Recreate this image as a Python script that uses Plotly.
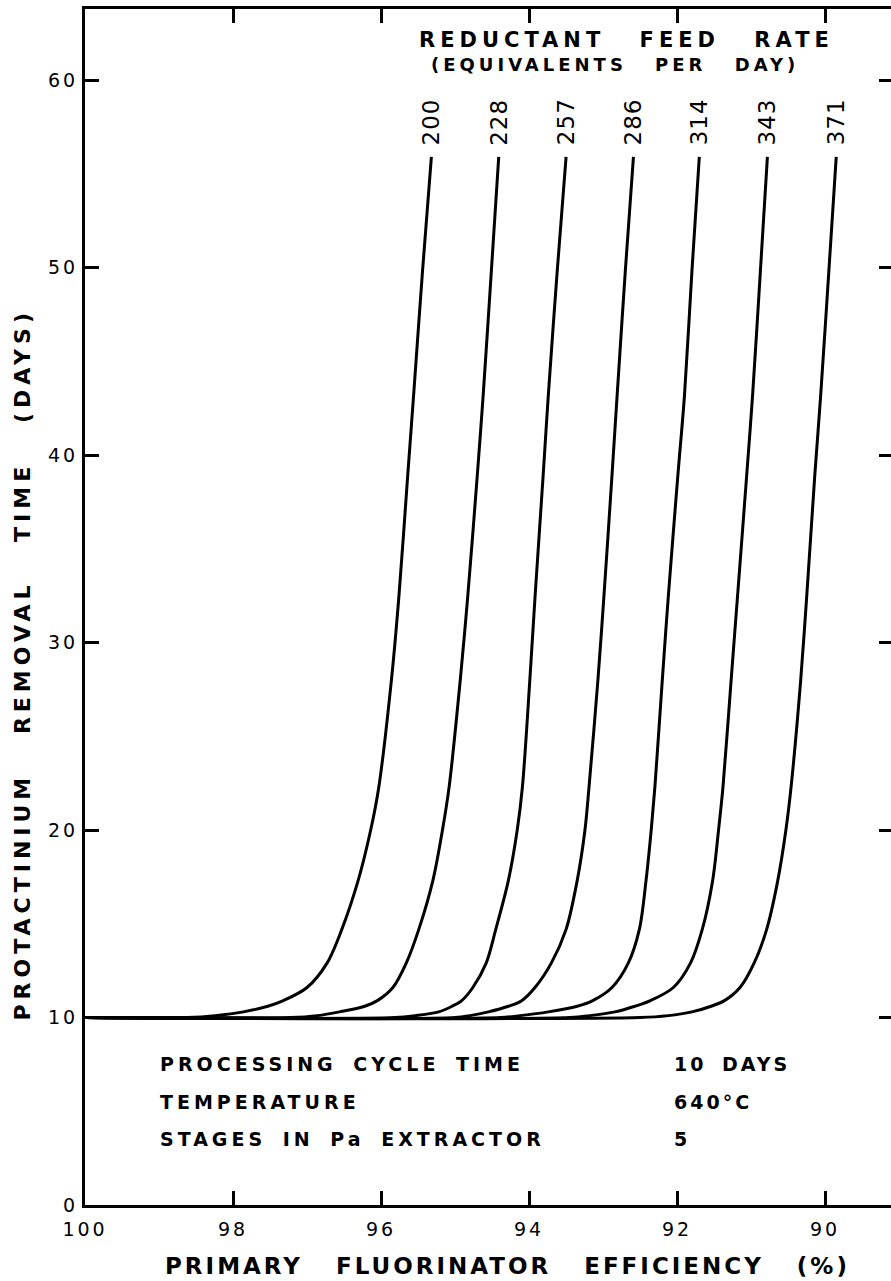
import plotly.graph_objects as go

# Reductant feed rate (equivalents per day) labelling each curve
feed_rates = ["200", "228", "257", "286", "314", "343", "371"]

# Protactinium removal time (days) at which each curve was read
removal_time_levels = [10.0, 10.1, 10.3, 10.6, 10.9, 11.6, 12.9, 14.7, 17.3,
                       20.0, 22.3, 28.0, 32.4, 38.9, 43.2, 49.8, 55.9]

# Primary fluorinator efficiency (%) for each curve at the levels above
eff_200 = [98.62, 98.24, 97.86, 97.53, 97.32, 97.00, 96.73, 96.53, 96.31,
           96.14, 96.03, 95.86, 95.76, 95.64, 95.56, 95.44, 95.32]
eff_228 = [97.23, 96.86, 96.56, 96.22, 96.05, 95.84, 95.66, 95.49, 95.30,
           95.17, 95.08, 94.93, 94.83, 94.70, 94.62, 94.51, 94.41]
eff_257 = [95.81, 95.54, 95.22, 95.04, 94.91, 94.76, 94.58, 94.45, 94.28,
           94.16, 94.09, 93.99, 93.92, 93.81, 93.74, 93.62, 93.50]
eff_286 = [95.00, 94.80, 94.55, 94.28, 94.10, 93.92, 93.70, 93.50, 93.35,
           93.245, 93.19, 93.07, 92.99, 92.88, 92.81, 92.70, 92.59]
eff_314 = [94.39, 94.12, 93.74, 93.35, 93.14, 92.88, 92.66, 92.51, 92.42,
           92.35, 92.30, 92.20, 92.12, 91.99, 91.90, 91.80, 91.70]
eff_343 = [93.45, 93.18, 92.84, 92.57, 92.36, 92.05, 91.82, 91.66, 91.52,
           91.44, 91.38, 91.27, 91.185, 91.06, 90.98, 90.875, 90.78]
eff_371 = [92.50, 92.12, 91.80, 91.54, 91.36, 91.15, 90.96, 90.79, 90.64,
           90.53, 90.46, 90.33, 90.25, 90.14, 90.06, 89.95, 89.85]

# Common starting point of every curve (100 % efficiency, one cycle time)
start_eff = 100.0
start_time = 10.0

x_ticks = [100, 98, 96, 94, 92, 90]
x_tick_labels = ["100", "98", "96", "94", "92", "90"]
y_ticks = [0, 10, 20, 30, 40, 50, 60]
y_tick_labels = ["0", "10", "20", "30", "40", "50", "60"]

conditions_labels = ["PROCESSING CYCLE TIME", "TEMPERATURE", "STAGES IN Pa EXTRACTOR"]
conditions_values = ["10 DAYS", "640°C", "5"]
conditions_y = [7.5, 5.5, 3.5]

curves = [eff_200, eff_228, eff_257, eff_286, eff_314, eff_343, eff_371]

FONT = "DejaVu Sans"


def spaced(text, ls, ws=0):
    return f'<span style="letter-spacing:{ls}px;word-spacing:{ws}px">{text}</span>'


fig = go.Figure()
for name, eff in zip(feed_rates, curves):
    fig.add_trace(go.Scatter(
        x=[start_eff] + eff,
        y=[start_time] + removal_time_levels,
        mode="lines",
        line=dict(color="black", width=3, shape="spline", smoothing=0.9),
        name=name,
        hoverinfo="skip",
    ))

# invisible trace to activate the right-hand tick axis
fig.add_trace(go.Scatter(x=[start_eff], y=[start_time], yaxis="y2", mode="markers",
                         marker=dict(opacity=0), showlegend=False, hoverinfo="skip"))

x_range = [100, 89.11]
y_range = [0, 63.79]

annotations = []
for name, eff in zip(feed_rates, curves):
    annotations.append(dict(
        x=eff[-1], y=56.4, xref="x", yref="y", text=spaced(name, 1),
        textangle=-90, showarrow=False, xanchor="center", yanchor="bottom",
        font=dict(family=FONT, size=23, color="black"),
    ))

annotations.append(dict(
    x=92.68, y=62.13, xref="x", yref="y",
    text=spaced("<b>REDUCTANT FEED RATE</b>", 5, 22), showarrow=False,
    xanchor="center", yanchor="middle",
    font=dict(family=FONT, size=21, color="black"),
))
annotations.append(dict(
    x=92.84, y=60.85, xref="x", yref="y",
    text=spaced("<b>(EQUIVALENTS PER DAY)</b>", 4, 18), showarrow=False,
    xanchor="center", yanchor="middle",
    font=dict(family=FONT, size=18, color="black"),
))

for lab, val, yy in zip(conditions_labels, conditions_values, conditions_y):
    annotations.append(dict(
        x=99.01, y=yy, xref="x", yref="y", text=spaced("<b>" + lab + "</b>", 4, 6),
        showarrow=False, xanchor="left", yanchor="middle",
        font=dict(family=FONT, size=19, color="black"),
    ))
    annotations.append(dict(
        x=92.07, y=yy, xref="x", yref="y", text=spaced("<b>" + val + "</b>", 3, 6),
        showarrow=False, xanchor="left", yanchor="middle",
        font=dict(family=FONT, size=19, color="black"),
    ))

annotations.append(dict(
    x=0.5236, y=-0.051, xref="paper", yref="paper",
    text=spaced("<b>PRIMARY FLUORINATOR EFFICIENCY (%)</b>", 3, 22),
    showarrow=False, xanchor="center", yanchor="middle",
    font=dict(family=FONT, size=23, color="black"),
))
annotations.append(dict(
    x=-0.078, y=0.452, xref="paper", yref="paper",
    text=spaced("<b>PROTACTINIUM REMOVAL TIME (DAYS)</b>", 5, 26),
    textangle=-90, showarrow=False, xanchor="center", yanchor="middle",
    font=dict(family=FONT, size=22, color="black"),
))

fig.update_layout(
    width=891, height=1281,
    margin=dict(l=85, r=0, t=9, b=76),
    paper_bgcolor="white", plot_bgcolor="white",
    showlegend=False,
    font=dict(family=FONT, color="black"),
    xaxis=dict(
        range=x_range, tickvals=x_ticks,
        ticktext=[spaced(t, 3) for t in x_tick_labels],
        ticks="inside", ticklen=14, tickwidth=3, tickcolor="black",
        showline=True, linewidth=3, linecolor="black", mirror="ticks",
        showgrid=False, zeroline=False, ticklabelstandoff=5,
        tickfont=dict(family=FONT, size=19, color="black"),
    ),
    yaxis=dict(
        range=y_range, tickvals=y_ticks,
        ticktext=[spaced(t, 3) for t in y_tick_labels],
        ticks="inside", ticklen=14, tickwidth=3, tickcolor="black",
        showline=True, linewidth=3, linecolor="black", mirror=False,
        showgrid=False, zeroline=False,
        tickfont=dict(family=FONT, size=19, color="black"),
    ),
    yaxis2=dict(
        range=y_range, overlaying="y", side="right", tickvals=y_ticks,
        ticks="inside", ticklen=12, tickwidth=3, tickcolor="black",
        showticklabels=False, showline=False, showgrid=False, zeroline=False,
    ),
    annotations=annotations,
)

fig.write_html("out.html")
